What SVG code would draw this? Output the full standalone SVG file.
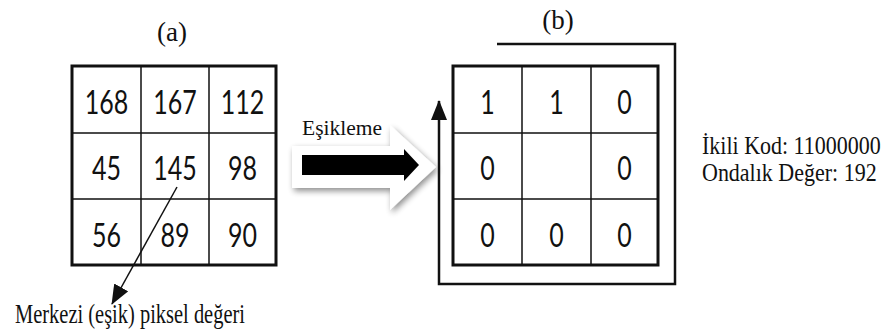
<svg xmlns="http://www.w3.org/2000/svg" width="892" height="336" viewBox="0 0 892 336">
<style>
.serif{font-family:"Liberation Serif","Times New Roman",serif;fill:#111}
.num{font-family:Lato,"Liberation Sans",sans-serif;font-size:25px;fill:#111;text-anchor:middle}
.outer{fill:#fff;stroke:#111;stroke-width:3}
.inner{stroke:#111;stroke-width:1.5;fill:none}
.conn{fill:none;stroke:#111}
</style>
<defs>
<marker id="tri" viewBox="0 0 20 16" refX="19" refY="8" markerWidth="20" markerHeight="16" markerUnits="userSpaceOnUse" orient="auto">
<path d="M0,0 L20,8 L0,16 z" fill="#111"/>
</marker>
<filter id="sh" x="-20%" y="-30%" width="140%" height="160%">
<feGaussianBlur in="SourceAlpha" stdDeviation="3"/>
<feOffset dx="2" dy="3" result="b"/>
<feComponentTransfer><feFuncA type="linear" slope="0.45"/></feComponentTransfer>
<feMerge><feMergeNode/><feMergeNode in="SourceGraphic"/></feMerge>
</filter>
</defs>
<rect width="892" height="336" fill="#fff"/>

<text class="serif" x="172" y="41" font-size="27" text-anchor="middle">(a)</text>
<text class="serif" x="558" y="29" font-size="27" text-anchor="middle">(b)</text>

<g id="gridA">
<rect class="outer" x="72" y="66" width="204" height="199"/>
<path class="inner" d="M141,66 V265 M209,66 V265 M72,133 H276 M72,199 H276"/>
<g class="num">
<text transform="translate(106.5,114) scale(1,1.3)">168</text>
<text transform="translate(175,114) scale(1,1.3)">167</text>
<text transform="translate(242.5,114) scale(1,1.3)">112</text>
<text transform="translate(106.5,180) scale(1,1.3)">45</text>
<text transform="translate(175,180) scale(1,1.3)">145</text>
<text transform="translate(242.5,180) scale(1,1.3)">98</text>
<text transform="translate(106.5,247) scale(1,1.3)">56</text>
<text transform="translate(175,247) scale(1,1.3)">89</text>
<text transform="translate(242.5,247) scale(1,1.3)">90</text>
</g>
</g>

<g id="gridB">
<rect class="outer" x="453" y="66" width="205" height="199"/>
<path class="inner" d="M522,66 V265 M591,66 V265 M453,133 H658 M453,199 H658"/>
<g class="num">
<text transform="translate(487.5,114) scale(1,1.3)">1</text>
<text transform="translate(556.5,114) scale(1,1.3)">1</text>
<text transform="translate(624.5,114) scale(1,1.3)">0</text>
<text transform="translate(487.5,180) scale(1,1.3)">0</text>
<text transform="translate(624.5,180) scale(1,1.3)">0</text>
<text transform="translate(487.5,247) scale(1,1.3)">0</text>
<text transform="translate(556.5,247) scale(1,1.3)">0</text>
<text transform="translate(624.5,247) scale(1,1.3)">0</text>
</g>
</g>

<g id="threshold">
<polygon points="292,146 390,146 390,125 436,167 390,210 390,188 292,188" fill="#fff" filter="url(#sh)"/>
<polygon points="302,155 404,155 404,149 419,165 404,181 404,175 302,175" fill="#000"/>
<text class="serif" x="302" y="135" font-size="22" textLength="80" lengthAdjust="spacingAndGlyphs">Eşikleme</text>
</g>

<g id="connectors">
<path class="conn" stroke-width="1.5" d="M177,187 L112,304" marker-end="url(#tri)"/>
<path class="conn" stroke-width="2.5" d="M497,44 H675 V284 H439 V101" marker-end="url(#tri)"/>
</g>

<g id="labelCenter">
<text class="serif" transform="translate(15,323) scale(1,1.3)" font-size="20.5" textLength="230" lengthAdjust="spacingAndGlyphs">Merkezi (eşik) piksel değeri</text>
</g>

<g id="result">
<text class="serif" transform="translate(702,154) scale(1,1.18)" font-size="22">İkili Kod: 11000000</text>
<text class="serif" transform="translate(702,181) scale(1,1.18)" font-size="22">Ondalık Değer: 192</text>
</g>
</svg>
